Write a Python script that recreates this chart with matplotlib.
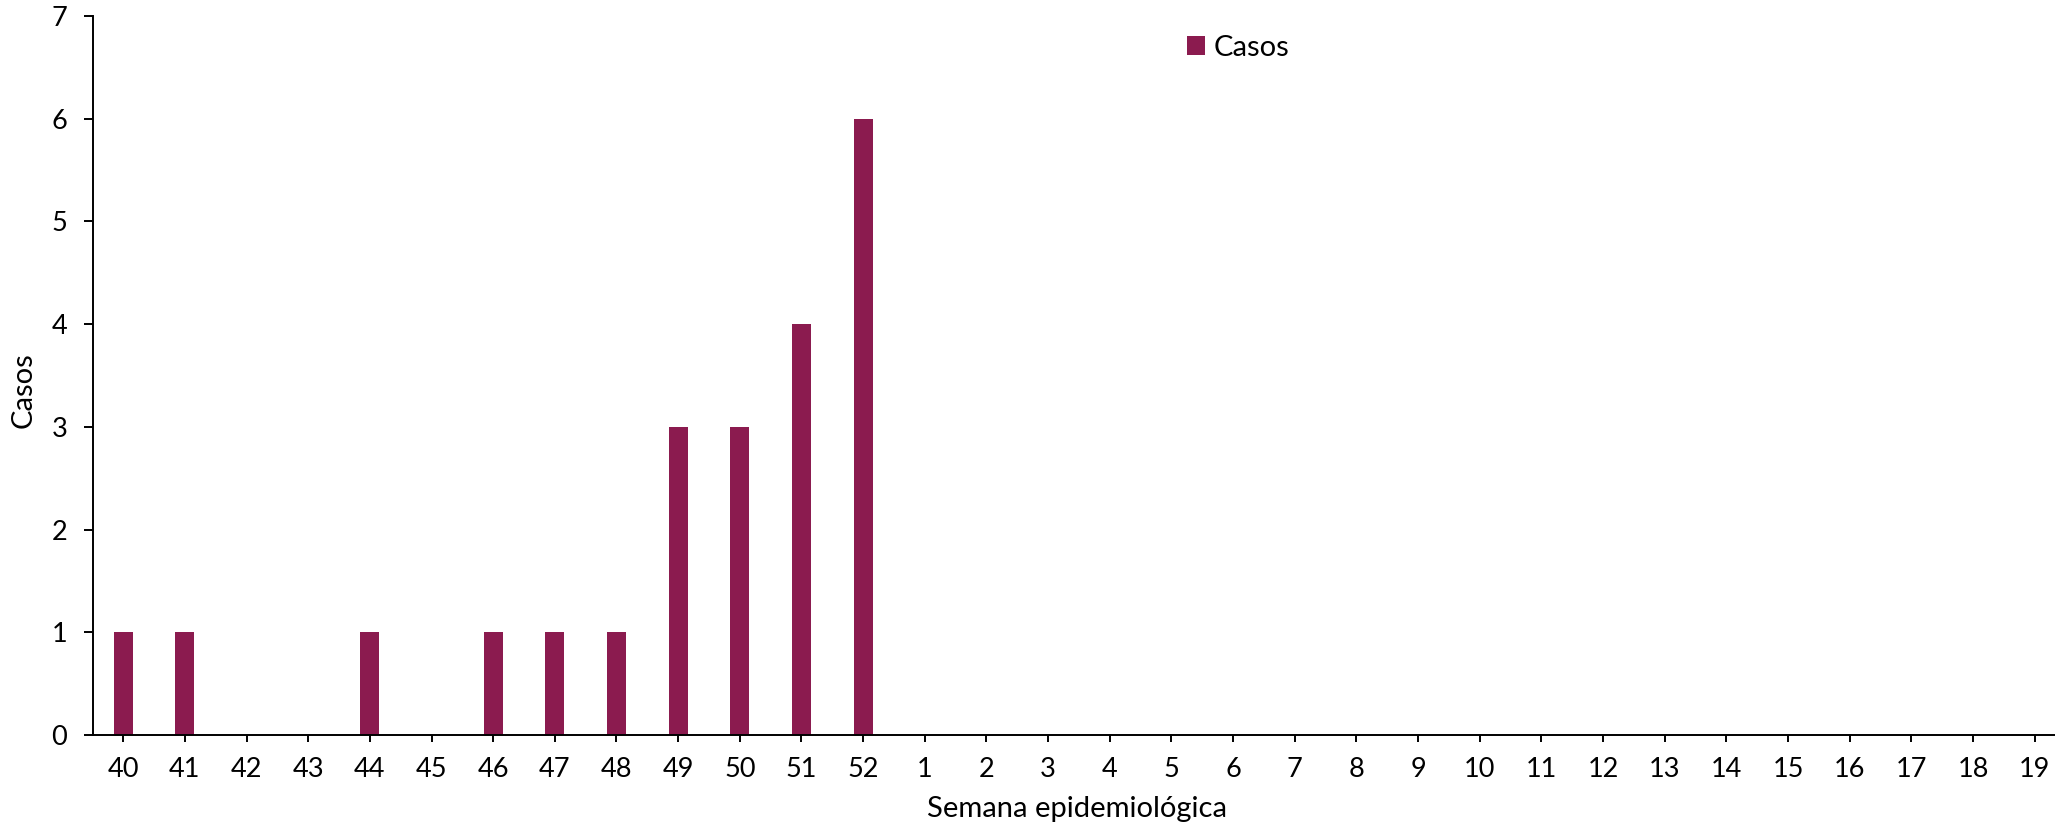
import matplotlib
matplotlib.use("Agg")
import matplotlib.pyplot as plt
import numpy as np

weeks = ["40", "41", "42", "43", "44", "45", "46", "47", "48", "49", "50", "51", "52",
         "1", "2", "3", "4", "5", "6", "7", "8", "9", "10", "11", "12", "13", "14",
         "15", "16", "17", "18", "19"]
casos = [1, 1, 0, 0, 1, 0, 1, 1, 1, 3, 3, 4, 6,
         0, 0, 0, 0, 0, 0, 0, 0, 0, 0, 0, 0, 0, 0, 0, 0, 0, 0, 0]
y_ticks = [0, 1, 2, 3, 4, 5, 6, 7]

plt.rcParams['font.family'] = ['Lato', 'DejaVu Sans']
W, H = 2055, 824
fig = plt.figure(figsize=(W / 100, H / 100), dpi=100)
ax = fig.add_axes([93 / W, 1 - 735 / H, (W - 93) / W, (735 - 16) / H])

color = '#8B1B4F'
x = np.arange(len(weeks))
ax.bar(x, casos, width=0.31, color=color, label='Casos', zorder=2)

ax.set_xlim(-0.49, 31.33)
ax.set_ylim(0, 7)
ax.set_xticks(x)
ax.set_xticklabels(weeks)
ax.set_yticks(y_ticks)

for s in ['top', 'right']:
    ax.spines[s].set_visible(False)
for s in ['left', 'bottom']:
    ax.spines[s].set_linewidth(1.4)
    ax.spines[s].set_color('black')

ax.tick_params(axis='y', direction='out', length=6.5, width=1.4, labelsize=19.5, pad=12)
ax.tick_params(axis='x', direction='out', length=5, width=1.4, labelsize=19.5, pad=11)

fig.text(1077 / W, 1 - 809 / H, 'Semana epidemiológica', ha='center', va='center', fontsize=21)
fig.text(24 / W, 1 - 390 / H, 'Casos', ha='center', va='center', rotation=90, fontsize=21)

fig.legend(loc='center left', bbox_to_anchor=(1187 / W, 1 - 48 / H), frameon=False,
           fontsize=21, handlelength=0.62, handleheight=0.62, handletextpad=0.3,
           borderpad=0, borderaxespad=0)

fig.savefig('out.png', dpi=100)
